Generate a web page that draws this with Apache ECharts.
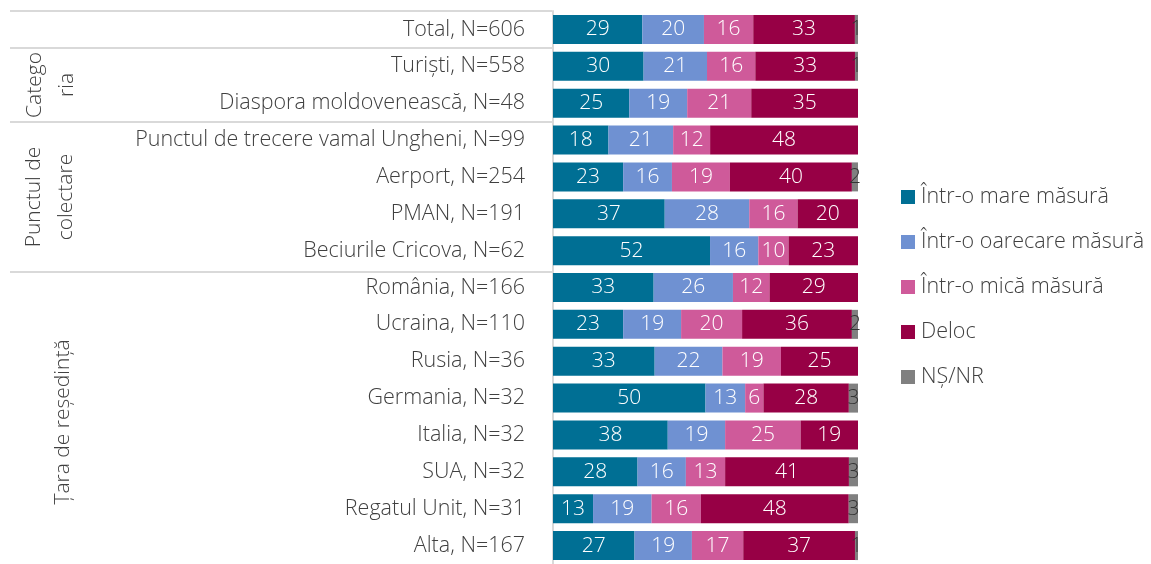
<!DOCTYPE html>
<html>
<head>
<meta charset="utf-8">
<script src="https://cdn.jsdelivr.net/npm/echarts@6/dist/echarts.min.js"></script>
<style>
  html, body { margin: 0; padding: 0; background: #fff; }
  #main { width: 1151px; height: 564px; }
</style>
</head>
<body>
<div id="main"></div>
<script>
// categorii (de sus in jos)
var categories = [
  'Total, N=606',
  'Turiști, N=558',
  'Diaspora moldovenească, N=48',
  'Punctul de trecere vamal Ungheni, N=99',
  'Aerport, N=254',
  'PMAN, N=191',
  'Beciurile Cricova, N=62',
  'România, N=166',
  'Ucraina, N=110',
  'Rusia, N=36',
  'Germania, N=32',
  'Italia, N=32',
  'SUA, N=32',
  'Regatul Unit, N=31',
  'Alta, N=167'
];

var seriesNames = ['Într-o mare măsură', 'Într-o oarecare măsură', 'Într-o mică măsură', 'Deloc', 'NȘ/NR'];

var mare      = [29, 30, 25, 18, 23, 37, 52, 33, 23, 33, 50, 38, 28, 13, 27];
var oarecare  = [20, 21, 19, 21, 16, 28, 16, 26, 19, 22, 13, 19, 16, 19, 19];
var mica      = [16, 16, 21, 12, 19, 16, 10, 12, 20, 19,  6, 25, 13, 16, 17];
var deloc     = [33, 33, 35, 48, 40, 20, 23, 29, 36, 25, 28, 19, 41, 48, 37];
var nsnr      = [ 1,  1,  0,  0,  2,  0,  0,  0,  2,  0,  3,  0,  3,  3,  1];

var colors = ['#006f94', '#6f91d2', '#cf5a9a', '#970045', '#808080'];

var allData = [mare, oarecare, mica, deloc, nsnr];

// 100% stacked: fiecare rand se scaleaza la suma lui
var rowSums = categories.map(function (c, i) {
  return allData.reduce(function (s, arr) { return s + arr[i]; }, 0);
});

var fontFam = 'Open Sans';

var series = allData.map(function (arr, k) {
  return {
    name: seriesNames[k],
    type: 'bar',
    stack: 'total',
    barWidth: 29,
    itemStyle: { color: colors[k] },
    label: {
      show: true,
      position: 'inside',
      color: k === 4 ? '#333333' : '#ffffff',
      fontFamily: fontFam,
      fontWeight: 300,
      fontSize: 21,
      formatter: function (p) { return p.data.raw ? String(p.data.raw) : ''; }
    },
    data: arr.map(function (v, i) {
      return { value: v / rowSums[i] * 100, raw: v };
    })
  };
});

var lineStyle = { stroke: '#d9d9d9', lineWidth: 2 };

var option = {
  animation: false,
  textStyle: { fontFamily: fontFam },
  grid: { left: 553, right: 293, top: 11, bottom: -6, containLabel: false },
  xAxis: {
    type: 'value',
    min: 0,
    max: 100,
    show: false
  },
  yAxis: {
    type: 'category',
    inverse: true,
    data: categories,
    axisTick: { show: false },
    axisLine: { show: true, lineStyle: { color: '#d9d9d9', width: 2 } },
    axisLabel: {
      margin: 28,
      color: '#404040',
      fontFamily: fontFam,
      fontWeight: 300,
      fontSize: 21.5
    }
  },
  legend: {
    orient: 'vertical',
    left: 896,
    top: 181,
    itemWidth: 14,
    itemHeight: 14,
    itemGap: 23,
    icon: 'rect',
    textStyle: { color: '#404040', fontFamily: fontFam, fontWeight: 300, fontSize: 21.5,
                 lineHeight: 20, padding: [0, 0, 0, 1] },
    data: seriesNames
  },
  graphic: [
    { type: 'line', shape: { x1: 10, y1: 11, x2: 552, y2: 11 }, style: lineStyle },
    { type: 'line', shape: { x1: 10, y1: 48, x2: 552, y2: 48 }, style: lineStyle },
    { type: 'line', shape: { x1: 10, y1: 122, x2: 552, y2: 122 }, style: lineStyle },
    { type: 'line', shape: { x1: 10, y1: 272, x2: 552, y2: 272 }, style: lineStyle },
    {
      type: 'text', x: 51, y: 85, rotation: Math.PI / 2,
      style: { text: 'Catego\nria', align: 'center', verticalAlign: 'middle', lineHeight: 32,
               fill: '#404040', font: '300 21px "Open Sans"' }
    },
    {
      type: 'text', x: 50, y: 197, rotation: Math.PI / 2,
      style: { text: 'Punctul de\ncolectare', align: 'center', verticalAlign: 'middle', lineHeight: 32,
               fill: '#404040', font: '300 21px "Open Sans"' }
    },
    {
      type: 'text', x: 63, y: 422, rotation: Math.PI / 2,
      style: { text: 'Țara de reședință', align: 'center', verticalAlign: 'middle',
               fill: '#404040', font: '300 21px "Open Sans"' }
    }
  ],
  series: series
};

var chart = echarts.init(document.getElementById('main'));
chart.setOption(option);
</script>
</body>
</html>
